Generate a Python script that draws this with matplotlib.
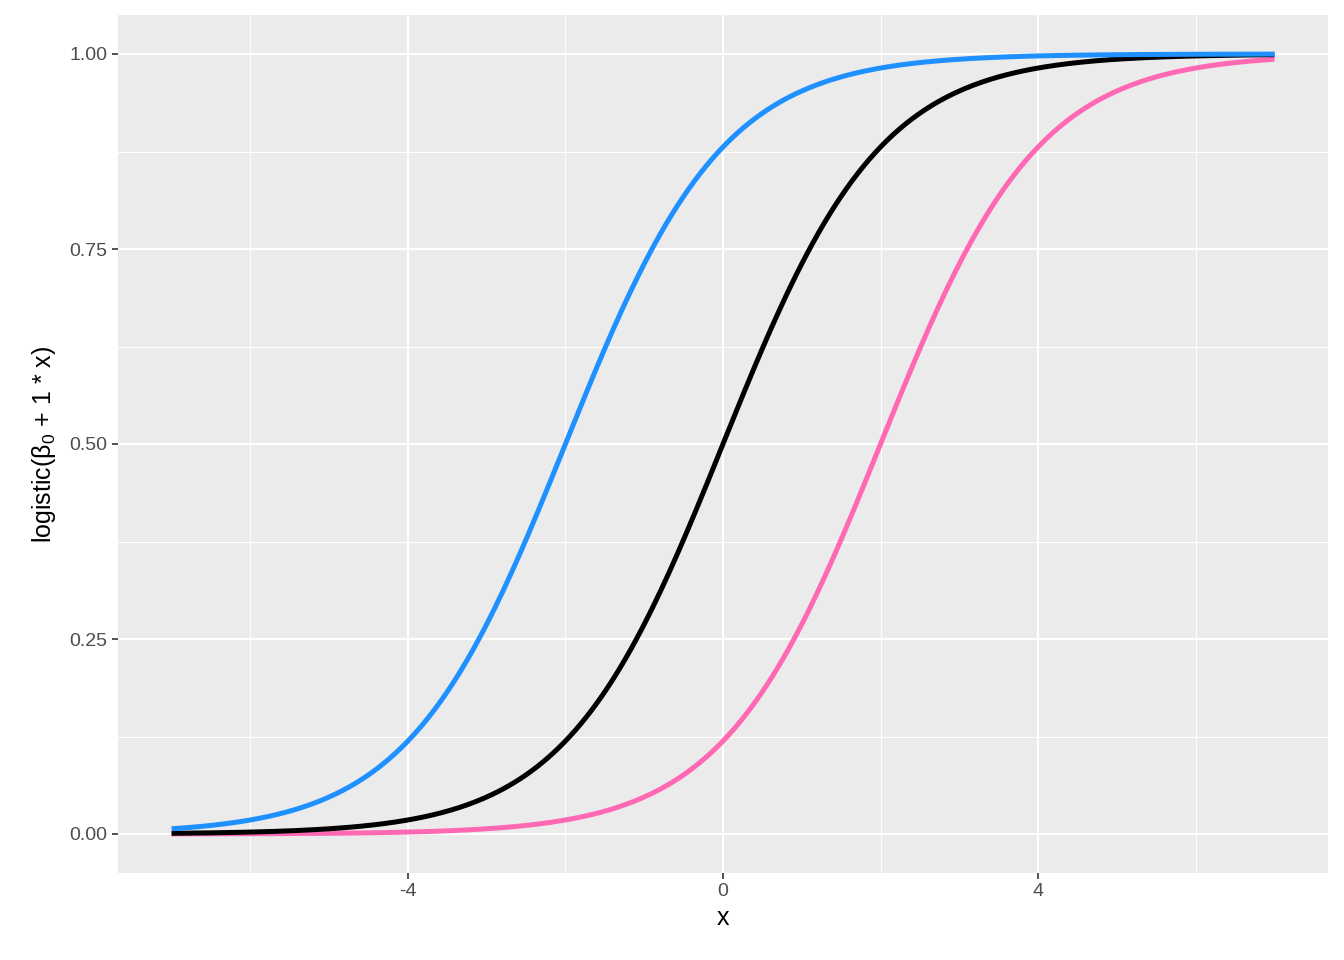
import numpy as np
import matplotlib.pyplot as plt
from matplotlib.ticker import MultipleLocator

plt.rcParams["font.family"] = ["Liberation Sans", "DejaVu Sans"]
plt.rcParams["mathtext.fontset"] = "custom"
plt.rcParams["mathtext.rm"] = "Liberation Sans"
plt.rcParams["mathtext.it"] = "Liberation Sans"
plt.rcParams["axes.unicode_minus"] = False

# intercepts of the three curves, slope fixed at 1
intercepts = [-2, 0, 2]
colors = ["#FF69B4", "black", "#1E90FF"]
x_min, x_max = -7, 7

x = np.linspace(x_min, x_max, 400)

fig = plt.figure(figsize=(13.44, 9.6), dpi=100)
ax = fig.add_axes([118 / 1344, 1 - 873 / 960, 1210 / 1344, 858 / 960])
ax.set_facecolor("#EBEBEB")

for b0, c in zip(intercepts, colors):
    ax.plot(x, 1 / (1 + np.exp(-(b0 + x))), color=c, lw=3.6, solid_capstyle="butt", zorder=3)

ax.set_xlim(-7.68, 7.68)
ax.set_ylim(-0.05, 1.05)
ax.xaxis.set_major_locator(MultipleLocator(4))
ax.xaxis.set_minor_locator(MultipleLocator(2))
ax.yaxis.set_minor_locator(MultipleLocator(0.125))
ax.set_yticks([0, 0.25, 0.5, 0.75, 1.0])
ax.set_yticklabels(["0.00", "0.25", "0.50", "0.75", "1.00"])
ax.grid(which="major", color="white", lw=1.5)
ax.grid(which="minor", color="white", lw=0.7)
ax.set_axisbelow(True)
for s in ax.spines.values():
    s.set_visible(False)
ax.tick_params(which="major", length=4, width=1.2, color="#333333", labelcolor="#4D4D4D", labelsize=14)
ax.tick_params(which="minor", length=0)
ax.set_xlabel("x", fontsize=18, labelpad=4)
ax.set_ylabel(r"logistic($\mathrm{\beta_0}$ + 1 * x)", fontsize=18, labelpad=8)

fig.savefig("out.png", dpi=100)
